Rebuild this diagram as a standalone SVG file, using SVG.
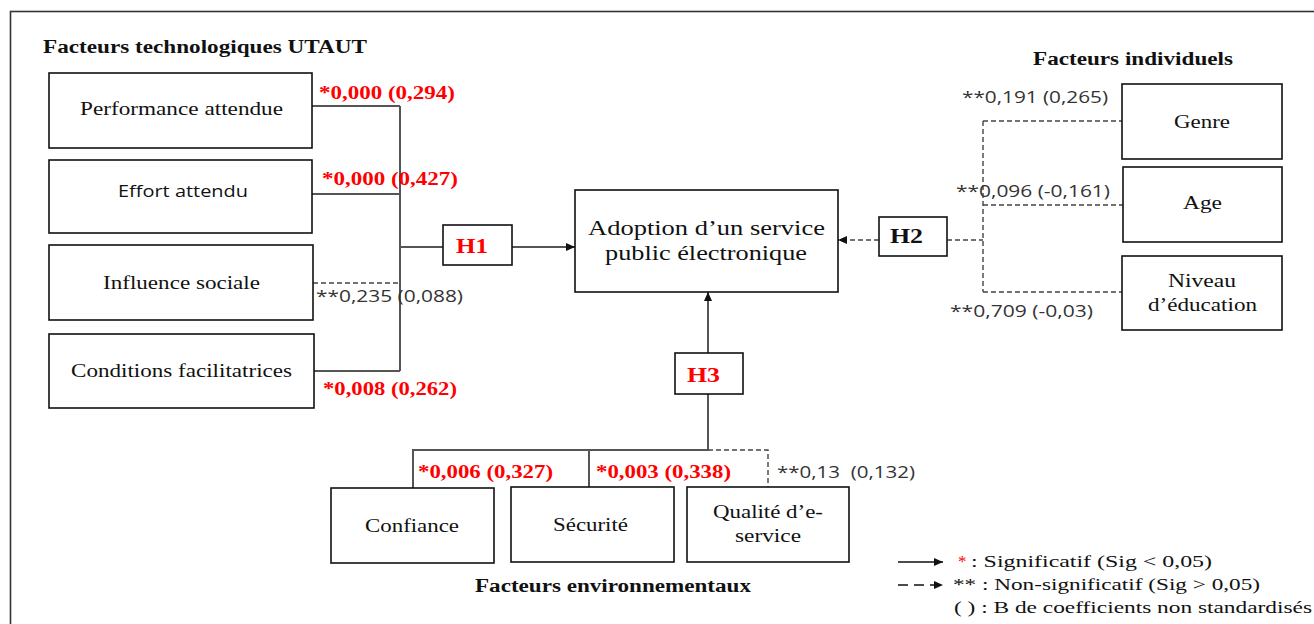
<svg xmlns="http://www.w3.org/2000/svg" width="1314" height="624" viewBox="0 0 1314 624">
  <defs>
    <marker id="arrow" markerUnits="userSpaceOnUse" markerWidth="9" markerHeight="8" refX="9" refY="4" orient="auto">
      <path d="M0,0 L9,4 L0,8 z" fill="#111"/>
    </marker>
    <style>
      .box { fill: #fff; stroke: #111; stroke-width: 1.6; }
      .frame { fill: none; stroke: #333; stroke-width: 1.6; }
      .link { fill: none; stroke: #555; stroke-width: 2; }
      .dash { fill: none; stroke: #444; stroke-width: 1.4; stroke-dasharray: 5 3; }
      .serif { font-family: "Liberation Serif", "Times New Roman", serif; font-size: 18px; fill: #111; }
      .sans { font-family: "Open Sans", "Liberation Sans", sans-serif; font-size: 16px; fill: #333; }
      .bold { font-weight: bold; }
      .sig { font-family: "Liberation Serif", "Times New Roman", serif; font-size: 18px; font-weight: bold; fill: #ff0000; }
      .hyp { font-family: "Liberation Serif", "Times New Roman", serif; font-size: 21px; font-weight: bold; }
      .main { font-family: "Liberation Serif", "Times New Roman", serif; font-size: 21px; fill: #111; }
      .legend { font-family: "Liberation Serif", "Times New Roman", serif; font-size: 17px; fill: #111; }
    </style>
  </defs>

  <rect x="0" y="0" width="1314" height="624" fill="#fff"/>
  <rect class="frame" x="10.5" y="11.5" width="1320" height="630"/>

  <!-- group headings -->
  <text class="serif bold" x="43" y="53" textLength="324" lengthAdjust="spacingAndGlyphs">Facteurs technologiques UTAUT</text>
  <text class="serif bold" x="1033" y="65" textLength="200" lengthAdjust="spacingAndGlyphs">Facteurs individuels</text>
  <text class="serif bold" x="475" y="592" textLength="276" lengthAdjust="spacingAndGlyphs">Facteurs environnementaux</text>

  <!-- connectors -->
  <g id="connectors">
    <!-- UTAUT branch -->
    <path class="link" d="M312 106 H400"/>
    <path class="link" d="M312 194 H400"/>
    <path class="dash" d="M313 283 H400"/>
    <path class="link" d="M314 371 H400"/>
    <path class="link" d="M400 106 V371"/>
    <path class="link" d="M400 247 H443"/>
    <path class="link" d="M512 247 H575" marker-end="url(#arrow)"/>
    <!-- individual factors branch -->
    <path class="dash" d="M879 240 H838" marker-end="url(#arrow)"/>
    <path class="dash" d="M947 240 H983"/>
    <path class="dash" d="M983 121 V292"/>
    <path class="dash" d="M983 121 H1122"/>
    <path class="dash" d="M983 205 H1123"/>
    <path class="dash" d="M983 292 H1122"/>
    <!-- environmental factors branch -->
    <path class="link" d="M708 353 V292" marker-end="url(#arrow)"/>
    <path class="link" d="M708 394 V450 H413 V488"/>
    <path class="link" d="M589 450 V487"/>
    <path class="dash" d="M708 450 H768 V487"/>
  </g>

  <!-- coefficient labels -->
  <g id="labels">
    <text class="sig" x="319" y="99" textLength="136" lengthAdjust="spacingAndGlyphs">*0,000 (0,294)</text>
    <text class="sig" x="322" y="185" textLength="136" lengthAdjust="spacingAndGlyphs">*0,000 (0,427)</text>
    <text class="sans" x="316" y="302" textLength="147" lengthAdjust="spacingAndGlyphs">**0,235 (0,088)</text>
    <text class="sig" x="323" y="395" textLength="134" lengthAdjust="spacingAndGlyphs">*0,008 (0,262)</text>
    <text class="sans" x="962" y="103" textLength="146" lengthAdjust="spacingAndGlyphs">**0,191 (0,265)</text>
    <text class="sans" x="956" y="197" textLength="154" lengthAdjust="spacingAndGlyphs">**0,096 (-0,161)</text>
    <text class="sans" x="950" y="317" textLength="143" lengthAdjust="spacingAndGlyphs">**0,709 (-0,03)</text>
    <text class="sig" x="418" y="478" textLength="135" lengthAdjust="spacingAndGlyphs">*0,006 (0,327)</text>
    <text class="sig" x="596" y="478" textLength="135" lengthAdjust="spacingAndGlyphs">*0,003 (0,338)</text>
    <text class="sans" x="777" y="478" textLength="138" lengthAdjust="spacingAndGlyphs">**0,13&#160; (0,132)</text>
  </g>

  <!-- UTAUT factors -->
  <g id="performance">
    <rect class="box" x="49" y="73" width="263" height="75"/>
    <text class="serif" x="80" y="115" textLength="203" lengthAdjust="spacingAndGlyphs">Performance attendue</text>
  </g>
  <g id="effort">
    <rect class="box" x="49" y="160" width="263" height="73"/>
    <text class="sans" style="fill:#111;font-size:17px" x="118" y="197" textLength="130" lengthAdjust="spacingAndGlyphs">Effort attendu</text>
  </g>
  <g id="influence">
    <rect class="box" x="49" y="245" width="264" height="75"/>
    <text class="serif" x="103" y="289" textLength="157" lengthAdjust="spacingAndGlyphs">Influence sociale</text>
  </g>
  <g id="conditions">
    <rect class="box" x="49" y="334" width="265" height="74"/>
    <text class="serif" x="71" y="377" textLength="221" lengthAdjust="spacingAndGlyphs">Conditions facilitatrices</text>
  </g>

  <!-- hypotheses -->
  <g id="h1">
    <rect class="box" x="443" y="225" width="69" height="40"/>
    <text class="hyp" fill="#ff0000" x="456" y="253" textLength="32" lengthAdjust="spacingAndGlyphs">H1</text>
  </g>
  <g id="h2">
    <rect class="box" x="879" y="217" width="68" height="39"/>
    <text class="hyp" fill="#111" x="890" y="243" textLength="33" lengthAdjust="spacingAndGlyphs">H2</text>
  </g>
  <g id="h3">
    <rect class="box" x="675" y="353" width="68" height="41"/>
    <text class="hyp" fill="#ff0000" x="687" y="382" textLength="33" lengthAdjust="spacingAndGlyphs">H3</text>
  </g>

  <!-- dependent variable -->
  <g id="adoption">
    <rect class="box" x="575" y="190" width="263" height="102"/>
    <text class="main" x="588" y="235" textLength="237" lengthAdjust="spacingAndGlyphs">Adoption d’un service</text>
    <text class="main" x="605" y="260" textLength="202" lengthAdjust="spacingAndGlyphs">public électronique</text>
  </g>

  <!-- individual factors -->
  <g id="genre">
    <rect class="box" x="1122" y="84" width="160" height="75"/>
    <text class="serif" x="1174" y="128" textLength="56" lengthAdjust="spacingAndGlyphs">Genre</text>
  </g>
  <g id="age">
    <rect class="box" x="1123" y="167" width="159" height="75"/>
    <text class="serif" x="1183" y="209" textLength="39" lengthAdjust="spacingAndGlyphs">Age</text>
  </g>
  <g id="education">
    <rect class="box" x="1122" y="256" width="160" height="74"/>
    <text class="serif" x="1168" y="287" textLength="68" lengthAdjust="spacingAndGlyphs">Niveau</text>
    <text class="serif" x="1148" y="311" textLength="109" lengthAdjust="spacingAndGlyphs">d’éducation</text>
  </g>

  <!-- environmental factors -->
  <g id="confiance">
    <rect class="box" x="331" y="488" width="163" height="75"/>
    <text class="serif" x="365" y="532" textLength="94" lengthAdjust="spacingAndGlyphs">Confiance</text>
  </g>
  <g id="securite">
    <rect class="box" x="511" y="487" width="163" height="75"/>
    <text class="serif" x="553" y="531" textLength="75" lengthAdjust="spacingAndGlyphs">Sécurité</text>
  </g>
  <g id="qualite">
    <rect class="box" x="687" y="487" width="162" height="75"/>
    <text class="serif" x="713" y="518" textLength="110" lengthAdjust="spacingAndGlyphs">Qualité d’e-</text>
    <text class="serif" x="735" y="542" textLength="66" lengthAdjust="spacingAndGlyphs">service</text>
  </g>

  <!-- legend -->
  <g id="legend">
    <path d="M898 562 H943" stroke="#111" stroke-width="1.6" fill="none" marker-end="url(#arrow)"/>
    <path d="M898 585 H943" stroke="#111" stroke-width="1.6" fill="none" stroke-dasharray="10 6" marker-end="url(#arrow)"/>
    <text class="legend" style="fill:#ff0000" x="958" y="567">*</text>
    <text class="legend" x="971" y="567" textLength="241" lengthAdjust="spacingAndGlyphs">: Significatif (Sig &lt; 0,05)</text>
    <text class="legend" x="953" y="590" textLength="307" lengthAdjust="spacingAndGlyphs">** : Non-significatif (Sig &gt; 0,05)</text>
    <text class="legend" x="954" y="613" textLength="358" lengthAdjust="spacingAndGlyphs">( ) : B de coefficients non standardisés</text>
  </g>
</svg>
